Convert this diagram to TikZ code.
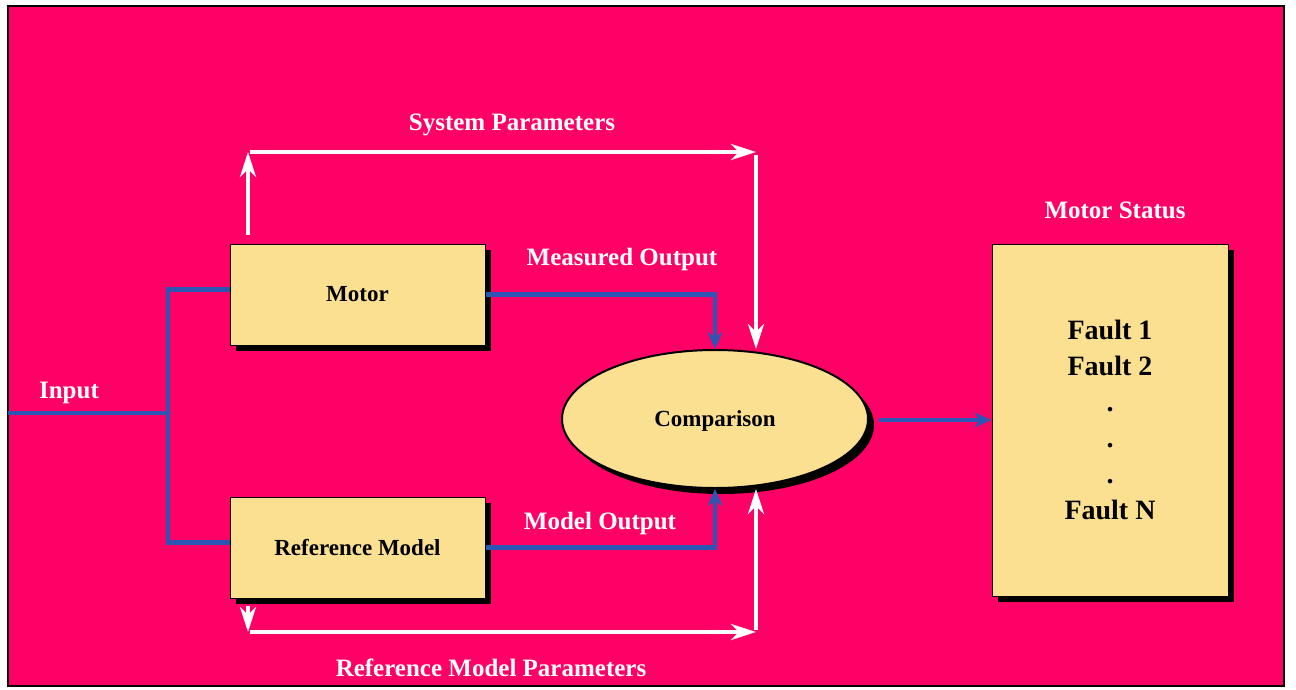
\documentclass[tikz,border=0pt]{standalone}
\usepackage{fontspec}
\setmainfont{Liberation Serif}
\usepackage{tikz}
\usetikzlibrary{positioning, shapes.geometric, shadows, arrows.meta}

\definecolor{bgpink}{RGB}{255,0,102}
\definecolor{boxyellow}{RGB}{252,224,145}
\definecolor{sigblue}{RGB}{45,85,180}

\begin{document}
\begin{tikzpicture}[
		x=1pt, y=-1pt,
		shade/.style={drop shadow={shadow xshift=6pt, shadow yshift=-6pt, opacity=1, fill=black}},
		box/.style={rectangle, draw=black, line width=1pt, fill=boxyellow, shade, minimum width=255pt, minimum height=101pt, inner sep=0pt, font=\fontsize{23}{28}\selectfont\bfseries},
		cmpnode/.style={ellipse, draw=black, line width=2pt, fill=boxyellow, shade, minimum width=306pt, minimum height=138pt, inner sep=0pt, text depth=0pt, font=\fontsize{23}{28}\selectfont\bfseries},
		faultbox/.style={rectangle, draw=black, line width=1pt, fill=boxyellow, shade, minimum width=236pt, minimum height=352pt, inner sep=0pt, align=center, font=\fontsize{28}{36}\selectfont\bfseries},
		lbl/.style={text=white, inner sep=0pt, font=\fontsize{25}{30}\selectfont\bfseries},
		blueline/.style={draw=sigblue, line width=4.3pt},
		bluearrow/.style={blueline, -{Stealth[length=17pt, width=15pt, inset=5pt]}},
		whitearrow/.style={draw=white, line width=4.5pt, -{Stealth[length=25pt, width=16pt, inset=8pt]}}
		]
		
		% frame
		\useasboundingbox (0,0) rectangle (1296,689);
		\draw[black, line width=2pt, fill=bgpink] (7.5,6) rectangle (1284,686);
		
		% Motor and reference model
		\node[box] (motor) at (357.5,294.5) {Motor};
		\node[box, below=151pt of motor] (refm) {Reference Model};
		
		% Comparison and status
		\node[cmpnode] (cmp) at (715,419) {Comparison};
		\node[faultbox] (fault) at (1110,420) {Fault 1\\Fault 2\\.\\.\\.\\Fault N};
		
		% Labels
		\node[lbl] (syspar) at (512,125) {System Parameters};
		\node[lbl] (measout) at (622,259) {Measured Output};
		\node[lbl] (modout) at (600,523) {Model Output};
		\node[lbl] (refpar) at (491,668) {Reference Model Parameters};
		\node[lbl] (inlbl) at (69,393) {Input};
		\node[lbl] (status) at (1115,210) {Motor Status};
		
		% Input split
		\coordinate (in) at (8,413);
		\coordinate (split) at (168,413);
		\draw[blueline] (in) -- (split);
		\draw[blueline] (split) |- ([yshift=5pt]motor.west);
		\draw[blueline] (split) |- ([yshift=5pt]refm.west);
		
		% Outputs into comparison
		\draw[bluearrow] (motor.east) -| (cmp.north);
		\draw[bluearrow] (refm.east) -| (cmp.south);
		\draw[bluearrow, shorten <=10pt] (cmp.east |- fault.west) -- (fault.west);
		
		% Parameter paths
		\coordinate (sp1) at (248,152);
		\coordinate (sp2) at (756,152);
		\coordinate (sp3) at (248,632);
		\coordinate (sp4) at (756,632);
		\draw[whitearrow, shorten <=9pt] (sp1 |- motor.north) -- (sp1);
		\draw[whitearrow, shorten <=2pt] (sp1) -- (sp2);
		\draw[whitearrow, shorten <=3pt] (sp2) -- (sp2 |- cmp.north);
		\draw[whitearrow, shorten <=7pt] (sp3 |- refm.south) -- (sp3);
		\draw[whitearrow, shorten <=2pt] (sp3) -- (sp4);
		\draw[whitearrow, shorten <=2pt] (sp4) -- (sp4 |- cmp.south);
		
	\end{tikzpicture}
\end{document}
